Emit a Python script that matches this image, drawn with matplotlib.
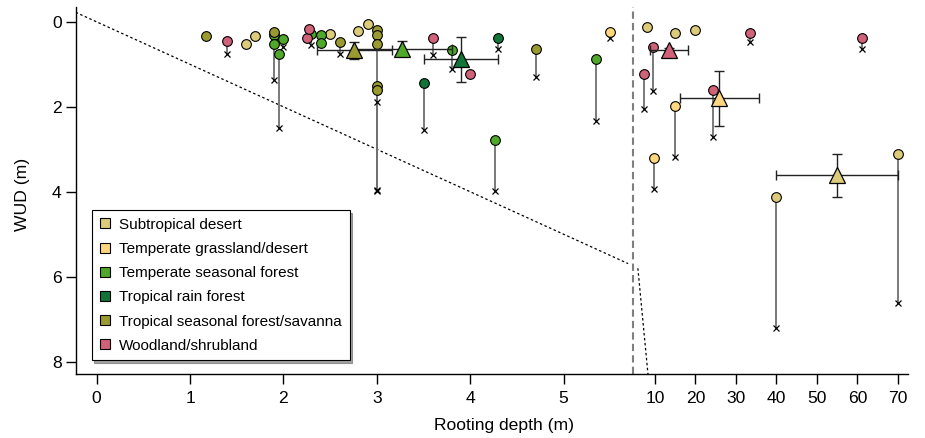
import numpy as np
import matplotlib
matplotlib.use("Agg")
import matplotlib.pyplot as plt
from matplotlib.lines import Line2D

plt.rcParams['font.family'] = ['Liberation Sans', 'DejaVu Sans']

nan = np.nan

# ---------------- data ----------------
biomes = ["Subtropical desert", "Temperate grassland/desert", "Temperate seasonal forest",
          "Tropical rain forest", "Tropical seasonal forest/savanna", "Woodland/shrubland"]
colors = ["#DCCB7B", "#FED67E", "#4FA829", "#127436", "#9A9A31", "#CF6178"]

sd_rd = [1.60, 1.70, 2.50, 2.80, 2.90, 7.95, 14.9, 19.9, 40.0, 70.0]
sd_wud = [0.53, 0.34, 0.29, 0.22, 0.055, 0.13, 0.27, 0.18, 4.12, 3.10]
sd_max = [nan, nan, nan, nan, nan, nan, nan, nan, 7.21, 6.61]

tg_rd = [5.50, 9.83, 14.9]
tg_wud = [0.25, 3.20, 1.98]
tg_max = [0.39, 3.94, 3.19]

ts_rd = [1.90, 1.90, 1.95, 2.00, 2.30, 2.40, 2.40, 3.80, 4.27, 5.35]
ts_wud = [0.30, 0.53, 0.745, 0.40, 0.29, 0.31, 0.50, 0.665, 2.78, 0.885]
ts_max = [nan, 1.37, 2.49, 0.59, 0.55, nan, nan, 1.10, 3.97, 2.34]

tr_rd = [3.50, 4.30]
tr_wud = [1.43, 0.37]
tr_max = [2.55, 0.63]

sv_rd = [1.17, 1.90, 2.60, 3.0, 3.0, 3.0, 3.0, 3.0, 4.70]
sv_wud = [0.33, 0.25, 0.47, 0.195, 0.30, 0.53, 1.51, 1.61, 0.63]
sv_max = [nan, nan, 0.745, nan, nan, 3.98, 3.95, 1.88, 1.29]

ws_rd = [1.40, 2.25, 2.27, 3.60, 4.00, 7.28, 9.58, 24.3, 33.5, 61.1]
ws_wud = [0.454, 0.39, 0.16, 0.39, 1.23, 1.23, 0.60, 1.60, 0.27, 0.376]
ws_max = [0.745, nan, nan, 0.78, nan, 2.05, 1.63, 2.70, 0.485, 0.64]

# biome means (triangles) with errors
mean_rd = [55.0, 25.9, 3.27, 3.90, 2.76, 13.5]
mean_wud = [3.61, 1.80, 0.63, 0.885, 0.67, 0.655]
mean_rd_err = [15.0, 9.8, 0.53, 0.40, 0.405, 4.7]
mean_wud_err = [0.51, 0.65, 0.18, 0.53, 0.20, 0.05]

xticks = [0, 1, 2, 3, 4, 5, 10, 20, 30, 40, 50, 60, 70]
yticks = [0, 2, 4, 6, 8]

all_rd = [sd_rd, tg_rd, ts_rd, tr_rd, sv_rd, ws_rd]
all_wud = [sd_wud, tg_wud, ts_wud, tr_wud, sv_wud, ws_wud]
all_max = [sd_max, tg_max, ts_max, tr_max, sv_max, ws_max]

# ---------------- broken x scale ----------------
BRK = 5.74
GAP = 0.052
RAT = 0.04336


def fwd(x):
    x = np.asarray(x, dtype=float)
    return np.where(x <= BRK, x, BRK + GAP + (x - BRK) * RAT)


def inv(p):
    p = np.asarray(p, dtype=float)
    return np.where(p <= BRK, p, np.where(p < BRK + GAP, BRK, BRK + (p - BRK - GAP) / RAT))


fig = plt.figure(figsize=(9.25, 4.38), dpi=100)
ax = fig.add_axes([0.0818, 0.1461, 0.9816 - 0.0818, 0.984 - 0.1461])
ax.set_xscale('function', functions=(fwd, inv))
ax.set_xlim(-0.225, 72.5)
ax.set_ylim(8.29, -0.35)

# 1:1 line (two segments)
ax.plot([-0.225, 5.69], [-0.225, 5.69], color='black', lw=0.9, ls=(0, (2, 2)), zorder=1)
ax.plot([5.80, 8.4], [5.80, 8.4], color='black', lw=0.9, ls=(0, (2, 2)), zorder=1)
# break line
ax.axvline(BRK, color='#7f7f7f', lw=1.5, ls=(0, (3.5, 2)), zorder=1)

# vertical segments and x markers
for rd, wud, mx in zip(all_rd, all_wud, all_max):
    for r, w, m in zip(rd, wud, mx):
        if not np.isnan(m):
            ax.plot([r, r], [w, m], color='#707070', lw=1.3, zorder=2)
            ax.plot([r], [m], marker='x', color='black', ms=4.5, mew=0.9, ls='none', zorder=3)

# circles
for rd, wud, c in zip(all_rd, all_wud, colors):
    ax.plot(rd, wud, marker='o', ls='none', ms=7, mfc=c, mec='black', mew=0.8, zorder=4)

# means with error bars
for i, c in enumerate(colors):
    ax.errorbar([mean_rd[i]], [mean_wud[i]], xerr=[mean_rd_err[i]], yerr=[mean_wud_err[i]],
                fmt='none', ecolor='#222222', elinewidth=1.0, capsize=3.5, capthick=1.0, zorder=5)
    ax.plot([mean_rd[i]], [mean_wud[i]], marker='^', ls='none', ms=12, mfc=c, mec='black',
            mew=0.9, zorder=6)

# axes styling
for s in ['top', 'right']:
    ax.spines[s].set_visible(False)
for s in ['left', 'bottom']:
    ax.spines[s].set_linewidth(1.0)
ax.set_xticks(xticks)
ax.set_xticklabels([str(t) for t in xticks])
ax.xaxis.set_minor_locator(matplotlib.ticker.NullLocator())
ax.set_yticks(yticks)
ax.set_yticklabels([str(t) for t in yticks])
ax.tick_params(axis='both', direction='out', length=7, width=1.0, labelsize=12.6, pad=3)
ax.tick_params(axis='x', pad=5)
ax.set_xlabel('Rooting depth (m)', fontsize=12.6)
ax.set_ylabel('WUD (m)', fontsize=12.6)
ax.xaxis.set_label_coords(0.5146, -0.119)
ax.yaxis.set_label_coords(-0.055, 0.49)

handles = [Line2D([0], [0], marker='s', ls='none', ms=7, mfc=c, mec='black', mew=0.8)
           for c in colors]
leg = ax.legend(handles, biomes, loc='upper left', bbox_to_anchor=(0.0192, 0.4469),
                fontsize=11, frameon=True, fancybox=False, shadow=True,
                handlelength=0.8, handletextpad=0.5, labelspacing=0.67,
                borderpad=0.5, borderaxespad=0.0)
leg.get_frame().set_edgecolor('black')
leg.get_frame().set_linewidth(0.8)

fig.savefig('out.png', dpi=100)
